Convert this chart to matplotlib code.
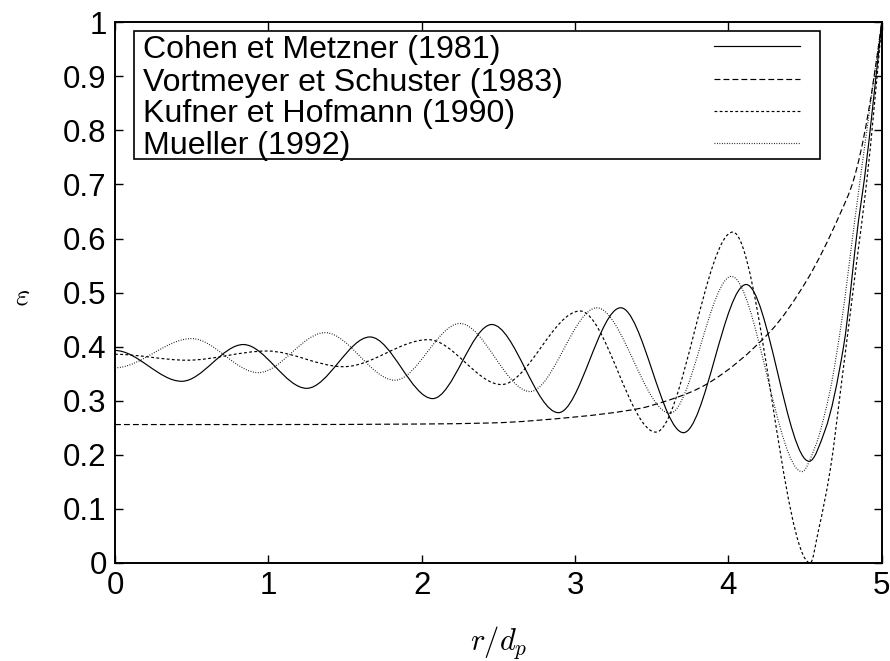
import numpy as np
import matplotlib
matplotlib.use('Agg')
import matplotlib.pyplot as plt
from matplotlib.path import Path
from matplotlib.patches import PathPatch, Rectangle
from matplotlib.lines import Line2D

plt.rcParams['font.family'] = ['Liberation Sans', 'DejaVu Sans']
plt.rcParams['mathtext.fontset'] = 'cm'

### Porosity profiles, eps against r/d_p

cohen_r = [0.0, 0.435, 0.837, 1.25, 1.663, 2.072, 2.457, 2.892, 3.298, 3.707,
           4.116, 4.527, 4.631, 4.751, 4.849, 4.886, 4.947, 5.0]
cohen_eps = [0.393, 0.336, 0.404, 0.323, 0.418, 0.304, 0.441, 0.278, 0.472, 0.241,
             0.515, 0.188, 0.246, 0.400, 0.634, 0.708, 0.859, 1.0]

vortmeyer_r = [0.0, 1.0, 2.0, 2.457, 3.0, 3.425, 3.577, 3.75, 3.86, 4.273,
               4.512, 4.729, 4.816, 5.0]
vortmeyer_eps = [0.256, 0.256, 0.257, 0.259, 0.270, 0.286, 0.298, 0.3155, 0.331, 0.428,
                 0.523, 0.646, 0.708, 1.0]

kufner_r = [0.0, 0.47, 0.99, 1.49, 2.044, 2.52, 3.033, 3.527, 4.029, 4.534,
            4.588, 4.664, 4.740, 4.838, 4.9, 5.0]
kufner_eps = [0.386, 0.375, 0.392, 0.363, 0.413, 0.330, 0.466, 0.242, 0.612, 0.0,
              0.061, 0.172, 0.338, 0.560, 0.700, 1.0]

mueller_r = [0.0, 0.50, 0.935, 1.37, 1.826, 2.25, 2.707, 3.142, 3.62, 4.02,
             4.479, 4.566, 4.664, 4.740, 4.827, 5.0]
mueller_eps = [0.361, 0.415, 0.352, 0.426, 0.338, 0.443, 0.317, 0.472, 0.277, 0.530,
               0.169, 0.215, 0.320, 0.450, 0.640, 1.0]

labels = ['Cohen et Metzner (1981)', 'Vortmeyer et Schuster (1983)',
          'Kufner et Hofmann (1990)', 'Mueller (1992)']
dashes = [None, (5.0, 2.6), (2.4, 2.0), (0.7, 1.4)]

x_ticks = [0, 1, 2, 3, 4, 5]
y_ticks = [0, 0.1, 0.2, 0.3, 0.4, 0.5, 0.6, 0.7, 0.8, 0.9, 1]
y_ticklabels = ['0', '0.1', '0.2', '0.3', '0.4', '0.5', '0.6', '0.7', '0.8', '0.9', '1']


def monotone_slopes(x, y):
   """
   Slopes for a shape-preserving cubic through the points (flat at the
   extrema and at the left end).
   """
   h = np.diff(x)
   d = np.diff(y) / h
   m = np.zeros_like(y)
   for k in range(1, len(y) - 1):
      if d[k - 1] * d[k] > 0:
         w1 = 2 * h[k] + h[k - 1]
         w2 = h[k] + 2 * h[k - 1]
         m[k] = (w1 + w2) / (w1 / d[k - 1] + w2 / d[k])
   end = ((2 * h[-1] + h[-2]) * d[-1] - h[-1] * d[-2]) / (h[-1] + h[-2])
   if np.sign(end) != np.sign(d[-1]):
      end = 0.
   elif np.sign(d[-1]) != np.sign(d[-2]) and abs(end) > 3 * abs(d[-1]):
      end = 3 * d[-1]
   m[-1] = end
   return m


def smooth_path(x, y):
   x = np.asarray(x, dtype = float)
   y = np.asarray(y, dtype = float)
   m = monotone_slopes(x, y)
   verts = [(x[0], y[0])]
   codes = [Path.MOVETO]
   for k in range(len(x) - 1):
      h = x[k + 1] - x[k]
      verts += [(x[k] + h / 3, y[k] + m[k] * h / 3),
                (x[k + 1] - h / 3, y[k + 1] - m[k + 1] * h / 3),
                (x[k + 1], y[k + 1])]
      codes += [Path.CURVE4] * 3
   return Path(verts, codes)


fig = plt.figure(figsize = (8.9, 6.61), dpi = 100)
ax = fig.add_axes([0.1292, 0.1483, 0.8615, 0.8180])

curves = [(cohen_r, cohen_eps), (vortmeyer_r, vortmeyer_eps),
          (kufner_r, kufner_eps), (mueller_r, mueller_eps)]
for (r, eps), dash in zip(curves, dashes):
   patch = PathPatch(smooth_path(r, eps), fill = False, edgecolor = 'black', lw = 0.85)
   if dash is not None:
      patch.set_linestyle((0, dash))
   ax.add_patch(patch)

ax.set_xlim(0, 5)
ax.set_ylim(0, 1)
ax.set_xticks(x_ticks)
ax.set_xticklabels([str(t) for t in x_ticks])
ax.set_yticks(y_ticks)
ax.set_yticklabels(y_ticklabels)
ax.tick_params(direction = 'in', length = 6, width = 1.0, labelsize = 22.5,
               top = True, right = True, pad = 6)
for spine in ax.spines.values():
   spine.set_linewidth(1.4)

ax.set_xlabel(r'$r/d_p$', fontsize = 22)
ax.xaxis.set_label_coords(0.5, -0.112)
ax.set_ylabel(r'$\varepsilon$', fontsize = 22, rotation = 0, va = 'center')
ax.yaxis.set_label_coords(-0.121, 0.492)

# Key in the upper left corner, with the line samples on the right
ax.add_patch(Rectangle((0.0248, 0.7472), 0.8947, 0.2367, transform = ax.transAxes,
                       facecolor = 'white', edgecolor = 'black', lw = 1.2, zorder = 3))
text_y = [0.9345, 0.8735, 0.8151, 0.7564]
line_y = [0.9562, 0.8951, 0.8360, 0.7768]
for label, dash, ty, ly in zip(labels, dashes, text_y, line_y):
   ax.text(0.0365, ty, label, transform = ax.transAxes, fontsize = 23.1,
           va = 'baseline', ha = 'left', zorder = 4)
   sample = Line2D([0.7813, 0.8935], [ly, ly], transform = ax.transAxes,
                   color = 'black', lw = 0.85, zorder = 4)
   if dash is not None:
      sample.set_dashes(dash)
   ax.add_line(sample)

fig.savefig('out.png', dpi = 100)
